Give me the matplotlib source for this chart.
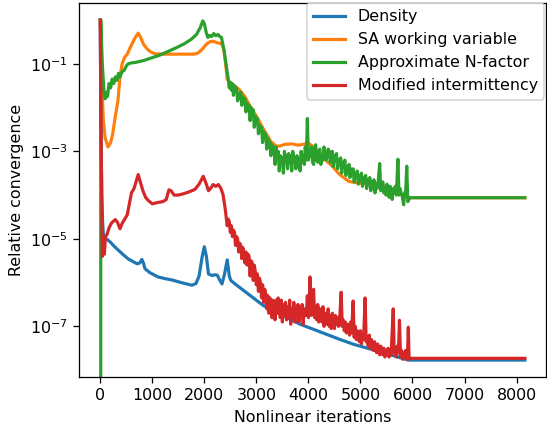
import numpy as np
import matplotlib
matplotlib.use("Agg")
import matplotlib.pyplot as plt

# values as (iteration, log10 of relative convergence)
density_pts = [(0, 0.0), (15, -2.5), (30, -4.0), (45, -4.6), (60, -4.9), (100, -4.98), (150, -5.03),
               (190, -5.07), (260, -5.16), (340, -5.25), (440, -5.36), (540, -5.46), (630, -5.52),
               (710, -5.57), (760, -5.55), (800, -5.47), (830, -5.55), (860, -5.68), (950, -5.77),
               (1110, -5.87), (1250, -5.91), (1380, -5.94), (1560, -6.0), (1760, -6.06), (1840, -6.02),
               (1900, -5.85), (1960, -5.4), (2000, -5.18), (2040, -5.4), (2080, -5.8), (2150, -5.84),
               (2200, -5.82), (2250, -5.83), (2300, -5.95), (2340, -6.03), (2390, -5.8), (2440, -5.48),
               (2480, -5.85), (2510, -5.95), (2590, -6.03), (3130, -6.52), (3840, -6.95), (4610, -7.3),
               (4870, -7.41), (5290, -7.55), (5920, -7.77), (8160, -7.77)]

sa_pts = [(0, 0.0), (20, -0.8), (40, -1.7), (60, -2.3), (95, -2.7), (150, -2.9), (200, -2.8),
          (240, -2.6), (290, -2.2), (340, -1.85), (380, -1.3), (420, -1.0), (470, -0.85), (520, -0.78),
          (580, -0.62), (650, -0.45), (700, -0.35), (730, -0.3), (770, -0.38), (830, -0.55),
          (900, -0.66), (970, -0.73), (1050, -0.77), (1200, -0.78), (1400, -0.78), (1600, -0.78),
          (1800, -0.78), (1870, -0.76), (1950, -0.68), (2050, -0.54), (2120, -0.49), (2180, -0.49),
          (2250, -0.52), (2330, -0.54), (2370, -0.65), (2400, -0.9), (2440, -1.35), (2500, -1.45),
          (2600, -1.52), (2680, -1.6), (2780, -1.75), (2870, -1.95), (2960, -2.12), (3060, -2.32),
          (3130, -2.48), (3190, -2.6), (3280, -2.78), (3380, -2.88), (3450, -2.88), (3550, -2.84),
          (3690, -2.83), (3800, -2.86), (3900, -2.84), (4000, -2.82), (4080, -2.88), (4200, -3.05),
          (4330, -3.2), (4460, -3.34), (4600, -3.53), (4780, -3.69), (5000, -3.73), (5350, -3.74),
          (5600, -3.9), (5800, -4.0), (5950, -4.06), (8160, -4.06)]

# first N-factor sample is zero (log scale sends it below the axes)
nfactor_pts = [(0, None), (10, 0.0), (40, -1.0), (70, -1.6), (95, -1.8), (120, -1.65), (140, -1.75),
               (170, -1.45), (200, -1.55), (230, -1.35), (260, -1.45), (290, -1.3), (320, -1.38),
               (350, -1.22), (380, -1.3), (420, -1.18), (460, -1.15), (500, -1.05), (540, -1.0),
               (600, -0.98), (670, -0.97), (750, -0.95), (850, -0.92), (1000, -0.86), (1150, -0.8),
               (1300, -0.72), (1450, -0.64), (1620, -0.54), (1750, -0.44), (1850, -0.33), (1920, -0.18),
               (1970, -0.02), (2000, -0.08), (2040, -0.3), (2070, -0.4), (2100, -0.35), (2140, -0.38),
               (2180, -0.31), (2220, -0.36), (2260, -0.33), (2300, -0.38), (2330, -0.4), (2380, -0.7),
               (2430, -1.1),
               (2460, -1.35), (2480, -1.55), (2500, -1.42), (2520, -1.6), (2540, -1.45), (2560, -1.72),
               (2580, -1.5), (2600, -1.62), (2620, -1.55), (2640, -1.85), (2660, -1.68), (2680, -1.78),
               (2700, -1.65), (2720, -1.95), (2740, -1.75), (2760, -1.88), (2780, -1.8), (2800, -2.1),
               (2820, -1.9), (2840, -2.02), (2860, -1.95), (2880, -2.3), (2900, -2.0), (2920, -2.18),
               (2940, -2.05), (2960, -2.45), (2980, -2.2), (3000, -2.35), (3020, -2.25), (3040, -2.6),
               (3060, -2.4), (3080, -2.5), (3100, -2.45), (3120, -2.8), (3140, -2.55), (3160, -2.7),
               (3180, -2.6), (3200, -2.95), (3220, -2.7), (3240, -2.85), (3260, -2.78), (3280, -3.1),
               (3300, -2.85), (3320, -3.0), (3340, -2.9), (3360, -3.3), (3380, -2.9), (3400, -3.15),
               (3420, -3.0), (3440, -3.45), (3460, -3.1), (3480, -3.25), (3500, -3.15), (3520, -3.5),
               (3540, -3.0), (3560, -3.2), (3580, -3.1), (3600, -3.4), (3620, -3.05), (3640, -3.25),
               (3660, -3.1), (3680, -3.45), (3700, -3.0), (3720, -3.2), (3740, -3.15), (3760, -3.4),
               (3780, -3.1), (3800, -3.3), (3820, -3.2), (3840, -3.45), (3860, -3.0), (3880, -3.15),
               (3900, -3.1), (3920, -3.3), (3940, -2.9), (3960, -3.2), (3980, -2.25), (4000, -3.2),
               (4020, -3.0), (4040, -3.1), (4060, -2.9), (4080, -3.25), (4100, -3.3), (4120, -2.95),
               (4140, -2.85), (4160, -3.2), (4180, -3.25), (4200, -3.0), (4220, -2.95), (4240, -3.3),
               (4260, -3.1), (4280, -3.2), (4300, -2.9), (4320, -3.05), (4340, -3.2), (4360, -3.1),
               (4380, -2.95), (4400, -3.0), (4420, -3.25), (4440, -3.15), (4460, -3.0), (4480, -3.35),
               (4500, -3.1), (4520, -3.2), (4540, -3.05), (4560, -3.4), (4580, -3.2), (4600, -3.3),
               (4620, -3.15), (4640, -3.5), (4660, -3.25), (4680, -3.35), (4700, -3.2), (4720, -3.55),
               (4740, -3.35), (4760, -3.45), (4780, -3.3), (4800, -3.6), (4820, -3.4), (4840, -3.5),
               (4860, -3.4), (4880, -3.7), (4900, -3.5), (4920, -3.6), (4940, -3.45), (4960, -3.75),
               (4980, -3.55), (5000, -3.65), (5020, -3.5), (5040, -3.8), (5060, -3.6), (5080, -3.7),
               (5100, -3.55), (5120, -3.85), (5140, -3.65), (5160, -3.75), (5180, -3.6), (5200, -3.9),
               (5220, -3.7), (5240, -3.8), (5260, -3.65), (5280, -3.95), (5300, -3.75), (5320, -3.85),
               (5340, -3.7), (5370, -3.28), (5390, -3.9), (5410, -3.8), (5430, -3.7), (5450, -3.95),
               (5470, -3.85), (5490, -4.0), (5510, -3.75), (5530, -3.9), (5550, -4.05), (5570, -3.8),
               (5590, -3.95), (5610, -4.1), (5630, -3.85), (5650, -3.95), (5670, -3.8), (5690, -4.0),
               (5720, -3.18), (5740, -4.0), (5760, -3.85), (5780, -3.95), (5800, -4.0), (5830, -4.22),
               (5850, -3.95), (5870, -3.9), (5890, -3.34), (5910, -4.15), (5930, -4.1), (5950, -4.06),
               (8160, -4.06)]

interm_pts = [(0, 0.0), (20, -3.0), (40, -5.4), (60, -5.1), (80, -5.35), (100, -4.95), (130, -4.9),
              (170, -4.75), (210, -4.65), (250, -4.6), (290, -4.56), (330, -4.62), (380, -4.77),
              (420, -4.65), (470, -4.55), (520, -4.45), (560, -4.2), (600, -3.95), (650, -3.85),
              (700, -3.65), (730, -3.53), (770, -3.7), (820, -3.9), (870, -4.05), (920, -4.12),
              (1000, -4.2), (1100, -4.17), (1200, -4.15), (1270, -4.1), (1320, -3.88), (1360, -3.9),
              (1420, -4.0), (1500, -4.0), (1600, -3.97), (1700, -3.93), (1820, -3.87), (1900, -3.75),
              (1980, -3.57), (2030, -3.72), (2080, -3.9), (2120, -3.85), (2170, -3.76), (2220, -3.8),
              (2270, -3.76), (2320, -3.85), (2360, -3.99),
              (2400, -4.3), (2420, -4.5), (2440, -4.7), (2460, -4.55), (2480, -4.6), (2500, -4.85),
              (2520, -4.7), (2540, -4.95), (2560, -4.8), (2580, -4.85), (2600, -5.15), (2620, -4.95),
              (2640, -5.0), (2660, -5.3), (2680, -5.1), (2700, -5.15), (2720, -5.45), (2740, -5.2),
              (2760, -5.3), (2780, -5.55), (2800, -5.3), (2820, -5.6), (2840, -5.35), (2860, -5.4),
              (2880, -5.85), (2900, -5.5), (2920, -5.55), (2940, -5.95), (2960, -5.6), (2980, -5.75),
              (3000, -6.05), (3020, -5.8), (3040, -6.2), (3060, -5.9), (3080, -6.0), (3100, -6.35),
              (3120, -6.05), (3140, -6.45), (3160, -6.15), (3180, -6.25), (3200, -6.6), (3220, -6.3),
              (3240, -6.7), (3260, -6.35), (3280, -6.5), (3300, -6.8), (3320, -6.4), (3340, -6.55),
              (3360, -6.85), (3380, -6.4), (3400, -6.7), (3420, -6.35), (3440, -6.6), (3460, -6.8),
              (3480, -6.4), (3500, -6.9), (3520, -6.5), (3540, -6.75), (3560, -6.45), (3580, -6.85),
              (3600, -6.55), (3620, -6.8), (3640, -6.4), (3660, -6.95), (3680, -6.6), (3700, -6.8),
              (3720, -6.45), (3740, -6.9), (3760, -6.55), (3780, -6.75), (3800, -6.5), (3820, -6.9),
              (3840, -6.6), (3860, -6.8), (3880, -6.5), (3900, -6.95), (3920, -6.6), (3940, -6.7),
              (3960, -6.75), (3980, -6.3), (4000, -6.8), (4015, -6.55), (4030, -5.87), (4045, -6.7),
              (4060, -6.75), (4080, -6.5), (4100, -6.15), (4120, -6.8), (4140, -6.55), (4160, -6.85),
              (4180, -6.5), (4200, -6.9), (4220, -6.6), (4240, -6.75), (4260, -6.9), (4280, -6.55),
              (4300, -7.0), (4320, -6.7), (4340, -6.85), (4360, -6.95), (4380, -6.6), (4400, -7.0),
              (4420, -6.75), (4440, -7.05), (4460, -6.7), (4480, -6.9), (4500, -7.05), (4520, -6.75),
              (4540, -6.95), (4560, -6.8), (4580, -7.0), (4600, -6.85), (4630, -6.22), (4650, -7.0),
              (4670, -6.85), (4690, -7.1), (4710, -6.9), (4730, -7.15), (4750, -6.95), (4770, -7.0),
              (4790, -7.2), (4810, -6.9), (4830, -7.15), (4860, -6.42), (4880, -7.25), (4900, -7.0),
              (4920, -7.3), (4940, -7.1), (4960, -7.25), (4980, -7.35), (5000, -7.1), (5020, -7.4),
              (5040, -7.2), (5060, -7.3), (5090, -6.35), (5110, -7.35), (5130, -7.25), (5150, -7.45),
              (5170, -7.2), (5190, -7.5), (5210, -7.3), (5230, -7.4), (5250, -7.55), (5270, -7.35),
              (5290, -7.5), (5310, -7.6), (5330, -7.4), (5350, -7.55), (5370, -7.65), (5390, -7.45),
              (5410, -7.6), (5430, -7.65), (5450, -7.5), (5470, -7.7), (5490, -7.55), (5510, -7.65),
              (5530, -7.5), (5550, -7.7), (5570, -7.55), (5590, -7.65), (5630, -6.6), (5650, -7.6),
              (5670, -7.5), (5690, -7.7), (5710, -7.45), (5730, -7.6), (5750, -6.86), (5770, -7.7),
              (5790, -7.55), (5810, -7.75), (5830, -7.6), (5850, -7.7), (5870, -7.55), (5890, -7.75),
              (5905, -7.6), (5920, -7.02), (5935, -7.75), (5950, -7.73), (8160, -7.73)]

labels = ["Density", "SA working variable", "Approximate N-factor", "Modified intermittency"]
colors = ["tab:blue", "tab:orange", "tab:green", "tab:red"]


def to_xy(pts):
    x = [p[0] for p in pts]
    y = [0.0 if p[1] is None else 10.0 ** p[1] for p in pts]
    return x, y


fig = plt.figure(figsize=(547 / 114.5, 429 / 114.5), dpi=114.5)
ax = fig.add_axes([0.1444, 0.121, 0.854, 0.872])

for pts, lab, col in zip([density_pts, sa_pts, nfactor_pts, interm_pts], labels, colors):
    x, y = to_xy(pts)
    ax.plot(x, y, color=col, lw=2, label=lab)

ax.set_yscale("log")
ax.set_yticks([1e-7, 1e-5, 1e-3, 1e-1])
ax.yaxis.set_minor_locator(matplotlib.ticker.NullLocator())
ax.set_xticks(range(0, 9000, 1000))
ax.set_xlabel("Nonlinear iterations")
ax.set_ylabel("Relative convergence")
ax.legend(loc="upper right", bbox_to_anchor=(0.996, 1.0), borderaxespad=0.0)

fig.savefig("out.png", dpi=114.5)
